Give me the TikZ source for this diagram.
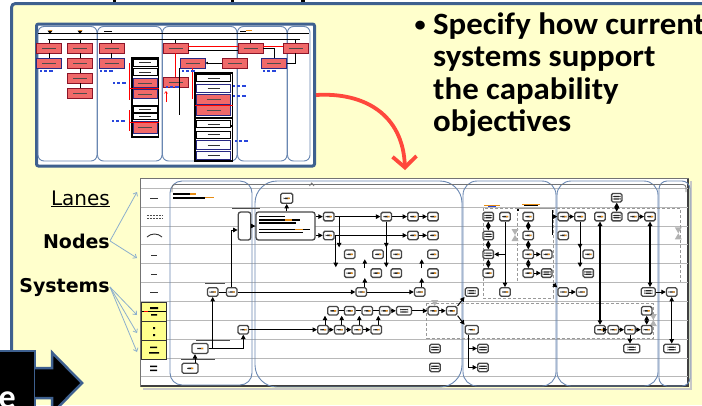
\documentclass[tikz,border=0pt]{standalone}
\usepackage{fontspec}
\setmainfont{Carlito}
\newfontfamily\lblfont{DejaVu Sans}
\newfontfamily\bulfont[FakeStretch=1.06]{Carlito Bold}
\usetikzlibrary{arrows.meta,calc}
\definecolor{panel}{RGB}{255,255,204}
\definecolor{frameblue}{RGB}{62,96,143}
\definecolor{lanec}{RGB}{105,135,178}
\definecolor{thred}{RGB}{240,105,105}
\definecolor{thdark}{RGB}{140,20,40}
\definecolor{navyb}{RGB}{40,40,130}
\definecolor{arrred}{RGB}{255,72,60}
\definecolor{hint}{RGB}{140,175,205}
\definecolor{cellyel}{RGB}{255,255,140}
\definecolor{tinyblue}{RGB}{40,70,220}
\definecolor{tinyor}{RGB}{230,140,20}
\begin{document}
\begin{tikzpicture}[x=1pt,y=-1pt,
  nd/.style={rectangle, rounded corners=1.5pt, draw=black!72, line width=1.3pt, fill=white,
    minimum width=10.5pt, minimum height=8.5pt, inner sep=0pt,
    path picture={\fill[black!85] ($(path picture bounding box.center)+(-3,-0.7)$) rectangle ($(path picture bounding box.center)+(3,0.7)$);
      \fill[tinyor] ($(path picture bounding box.center)+(1,-0.7)$) rectangle ($(path picture bounding box.center)+(3,0.7)$);}},
  ndd/.style={nd, path picture={\fill[black!85] ($(path picture bounding box.center)+(-4,-1.8)$) rectangle ($(path picture bounding box.center)+(4,-0.6)$);
      \fill[black!85] ($(path picture bounding box.center)+(-4,0.6)$) rectangle ($(path picture bounding box.center)+(4,1.8)$);}},
  ndw/.style={ndd, minimum width=15pt},
  bigbox/.style={rectangle, rounded corners=2.5pt, draw=black!72, line width=1.3pt, fill=white, inner sep=0pt},
  arr/.style={-{Triangle[length=4.5pt,width=4.5pt]}, line width=1pt},
  darr/.style={{Triangle[length=4.5pt,width=4.5pt]}-{Triangle[length=4.5pt,width=4.5pt]}, line width=1.3pt},
  ln/.style={line width=1pt},
  lane/.style={draw=lanec, line width=0.9pt},
  dbox/.style={draw=black!40, line width=0.9pt, dash pattern=on 3pt off 2pt},
  tb/.style={rectangle, fill=thred, draw=thdark, line width=0.9pt, minimum width=25pt, minimum height=10pt, inner sep=0pt,
    path picture={\draw[black!70, line width=0.6pt] ($(path picture bounding box.center)+(-7,0)$) -- ($(path picture bounding box.center)+(7,0)$);}},
  tbn/.style={tb, draw=navyb},
  tw/.style={rectangle, fill=white, draw=black, line width=0.8pt, minimum width=24pt, minimum height=7pt, inner sep=0pt,
    path picture={\draw[black!80, line width=0.6pt] ($(path picture bounding box.center)+(-6,0)$) -- ($(path picture bounding box.center)+(6,0)$);}},
  twn/.style={tw, draw=navyb, line width=1pt},
  tl/.style={black, line width=0.7pt},
  hintarr/.style={draw=hint, line width=0.8pt, -{Straight Barb[length=3pt,width=5pt]}},
  lbl/.style={anchor=base east, inner sep=0pt},
  bul/.style={font=\bulfont\fontsize{31}{31}\selectfont, anchor=base west, inner sep=0pt}
]
\useasboundingbox (0,0) rectangle (702,405);
% ---------- background panel ----------
\fill[white] (0,0) rectangle (702,405);
\fill[panel] (11.5,3.5) rectangle (702,405);
\draw[frameblue, line width=3pt, rounded corners=4pt] (11.5,351) -- (11.5,3.5) -- (706,3.5);
\fill[black] (112.5,0) rectangle (116,2);
\fill[black] (231,0) rectangle (234,1.6);
\fill[black] (301,0) rectangle (305,2.2);

% ---------- thumbnail ----------
\node[draw=frameblue, line width=3pt, rounded corners=2pt, fill=white, minimum width=278pt, minimum height=142pt, inner sep=0pt, anchor=north west] (thumb) at (35,22.5) {};
\foreach \a/\b in {38/97, 97.5/162, 162.5/237, 237.5/287, 287.5/310}
  \draw[lane, rounded corners=6pt] (\a,26.5) rectangle (\b,161);
\draw[tl] (38,33) -- (309,33);
\fill[black] (47.5,30.5) -- (52.5,30.5) -- (50,34) -- cycle;
\fill[black] (77.5,30.5) -- (82.5,30.5) -- (80,34) -- cycle;
\fill[tinyor] (48.5,30) rectangle (51.5,31);
\fill[tinyor] (78.5,30) rectangle (81.5,31);
\fill[black] (104,30.5) rectangle (112,31.5);
\fill[tinyor] (246,30) rectangle (252,31.2);
\fill[black] (240,31) rectangle (246,32);
\coordinate (bus) at (48,39.5);
\draw[black, line width=0.9pt] (bus) -- (300,39.5);
% row 1
\node[tb] (t1) at (49.2,48) {};
\node[tb] (t2) at (80,48) {};
\node[tb] (t3) at (111.5,48) {};
\node[tb] (t4) at (175.5,48) {};
\node[tb] (t5) at (250.5,48) {};
\node[tb] (t6) at (295.5,48) {};
% row 2
\node[tbn] (t7) at (49.2,63) {};
\node[tb] (t8) at (80,63) {};
\node[tbn] (t9) at (111.5,63) {};
\node[tbn] (t10) at (192.5,63) {};
\node[tb] (t11) at (235,63) {};
\node[tbn] (t12) at (274.2,63) {};
\node[tb] (t13) at (80,78) {};
\node[tb] (t14) at (175.5,82.5) {};
\node[tb] (t15) at (80,93.5) {};
% lane-2 groups
\draw[black, line width=1.1pt] (132,58) rectangle (158.5,107.5);
\node[tw] (g1) at (145.3,62.5) {};
\node[tw] (g2) at (145.3,72) {};
\node[tbn, minimum width=24pt, minimum height=9pt] (g3) at (145.3,83) {};
\node[tbn, minimum width=24pt, minimum height=9pt] (g4) at (145.3,94) {};
\draw[black, line width=1.1pt] (132,105.5) rectangle (158.5,137);
\node[tw, minimum height=6pt] (g5) at (145.3,109.5) {};
\node[tw, minimum height=6pt] (g6) at (145.3,116) {};
\node[tbn, minimum width=24pt, minimum height=12pt] (g7) at (145.3,127.5) {};
% lane-3 groups
\draw[black, line width=1.1pt] (195,73) rectangle (232.5,126);
\node[tw, minimum width=34pt] (h1) at (213.7,78) {};
\node[twn, minimum width=34pt, minimum height=8pt] (h2) at (213.7,88) {};
\node[tbn, minimum width=34pt, minimum height=10pt] (h3) at (213.7,99) {};
\node[tbn, minimum width=34pt, minimum height=10pt] (h4) at (213.7,110) {};
\draw[black, line width=1.1pt] (195,118) rectangle (232.5,161);
\node[tw, minimum width=34pt] (h5) at (213.7,124) {};
\node[tw, minimum width=34pt] (h6) at (213.7,134.5) {};
\node[twn, minimum width=34pt, minimum height=9pt] (h7) at (213.7,145) {};
\node[twn, minimum width=34pt, minimum height=8pt] (h8) at (213.7,155.5) {};
% thumbnail connectors
\foreach \t in {t1,t2,t3,t4,t5,t6} \draw[tl] (\t.north |- bus) -- (\t.north);
\draw[tl] (t1) -- (t7);
\draw[tl] (t2) -- (t8);
\draw[tl] (t8) -- (t13);
\draw[tl] (t13) -- (t15);
\draw[tl] (t3) -- (t9);
\draw[tl] ([yshift=-2pt]t4.east) -- ([yshift=-2pt]t5.west);
\draw[red, line width=0.8pt] ([yshift=1.3pt]t4.east) -- ([yshift=1.3pt]t5.west);
\draw[red, line width=0.8pt] ([yshift=1.3pt]t5.east) -- ([yshift=1.3pt]t6.west);
\draw[red, line width=0.8pt] (t4) -- (t14);
\draw[tl, -{Triangle[length=2.5pt,width=2.5pt]}] (t11) -- (t10);
\draw[tl] (t5.east) -| (t12.north);
\draw[tl] (t6.south) |- (t12.east);
\draw[tl] (t10.south west) -- (t10.south west |- h4.south);
\draw[red, line width=0.8pt] (129,63) -- (129,100) (129,88) -- (158.5,88);
\draw[red, line width=0.8pt] (129,110) -- (129,131) (129,122) -- (158.5,122);
\draw[red, line width=0.8pt] (t10.south) -- (t10.south |- h3) (195,105) -- (232.5,105);
\draw[red, line width=0.6pt, -{Straight Barb[length=2pt,width=3pt]}] (166,102) -- (166,91);
\foreach \x/\y in {40/71, 100/71, 113/83, 112/121, 182/71, 166/87, 233/86, 233/96, 235/141, 263/71}{
  \fill[tinyblue] (\x,\y-0.7) rectangle (\x+2,\y+0.7);
  \fill[tinyblue] (\x+4,\y-0.7) rectangle (\x+7,\y+0.7);
  \fill[tinyblue] (\x+9,\y-0.7) rectangle (\x+13,\y+0.7);
}

% ---------- red curved arrow ----------
\coordinate (arrtip) at (405,170);
\draw[arrred, line width=3.8pt, -{Straight Barb[length=11pt,width=24pt]}] (thumb.east) .. controls (365,92) and (403,115) .. (arrtip);

% ---------- bullet text ----------
\node[font=\bulfont\fontsize{21}{21}\selectfont, anchor=base west, inner sep=0pt] (bullet) at (414.5,31) {•};
\node[bul] (line1) at (433,34) {Specify how current};
\node[bul] (line2) at (433,66.6) {systems support};
\node[bul] (line3) at (433,99.2) {the capability};
\node[bul] (line4) at (433,131.8) {objectives};

% ---------- labels ----------
\node[lbl, font=\lblfont\fontsize{20}{20}\selectfont] (lanes) at (110,205) {\underline{Lanes}};
\node[lbl, font=\lblfont\bfseries\fontsize{19}{19}\selectfont] (nodes) at (110,248) {Nodes};
\node[lbl, font=\lblfont\bfseries\fontsize{19}{19}\selectfont] (systems) at (110,292) {Systems};
\coordinate (p1) at (137,192);
\coordinate (p2) at (137,258);
\coordinate (p3) at (137,315);
\coordinate (p4) at (137,333);
\coordinate (p5) at (137,352);
\draw[hintarr] (nodes.east) -- (p1);
\draw[hintarr] (nodes.east) -- (p2);
\draw[hintarr] (systems.east) -- (p3);
\draw[hintarr] (systems.east) -- (p4);
\draw[hintarr] (systems.east) -- (p5);

% ---------- big diagram frame ----------
\draw[black!22, line width=2pt] (690.5,181) -- (690.5,388.5) -- (143,388.5);
\node[draw=black!55, line width=0.8pt, fill=white, minimum width=548pt, minimum height=208pt, inner sep=0pt, anchor=north west] (big) at (140,178) {};
\draw[black!75, line width=1.2pt] (688,178.5) -- (688,386) -- (140.5,386);
\foreach \k in {0,...,10}{
  \pgfmathsetmacro\yy{188.3+18.84*\k}
  \draw[black!28, line width=0.7pt] (140.5,\yy) -- (687.5,\yy);
}
% left lane labels
\draw[black!80, line width=1pt] (150,198.3) -- (158,198.3);
\draw[black!70, line width=0.9pt, dash pattern=on 2pt off 1pt] (147,215) -- (163,215) (147,218.5) -- (163,218.5);
\draw[black!80, line width=0.9pt] (147,237) .. controls (151,233) and (158,233) .. (162,237);
\draw[black!80, line width=1pt] (151,255) -- (157,255) (151,274) -- (157,274) (150,292.7) -- (158,292.7);
\draw[black!80, fill=cellyel, line width=0.9pt] (141.5,302) rectangle (166.5,321) (141.5,321) rectangle (166.5,340) (141.5,340) rectangle (166.5,359);
\draw[black, line width=0.8pt] (142,311.5) -- (166,311.5);
\fill[red] (144,311) rectangle (148,312);
\fill[black] (150,307) rectangle (158,309) (151,314) rectangle (157,315.5);
\fill[black] (153,327) rectangle (155,329) (153,334) rectangle (155,336);
\fill[black] (150,346.5) rectangle (157,348) (149,352) rectangle (159,353.5);
\fill[black] (150,365.5) rectangle (157,367) (150,369.5) rectangle (157,371);

% lane outlines
\draw[lane, rounded corners=12pt] (170,181) rectangle (252,385);
\draw[lane, rounded corners=22pt] (255,181) rectangle (462,387);
\draw[lane, rounded corners=14pt] (463,181) rectangle (556,386);
\draw[lane, rounded corners=14pt] (557,181) rectangle (658,386);
\draw[lane, rounded corners=8pt] (659,181) rectangle (690,386);
\draw[black!55, line width=0.8pt, rounded corners=3pt] (172,192) -- (172,184.5) -- (686,184.5) -- (686,192);
\draw[black!55, line width=0.8pt] (309.5,186) -- (311.7,183) -- (314,186);

% dashed groups
\draw[dbox] (426.7,303.3) rectangle (653,338.3);
\draw[dbox] (483,208.3) rectangle (553,298.3);
\draw[dbox] (517,208.3) -- (680,208.3) -- (680,282);
\draw[dbox] (517,208.3) -- (517,282);
% hourglass marks
\foreach \x/\y in {515/235, 678.3/233.3, 653.3/320, 434.7/306}{
  \fill[black!30] (\x-3.5,\y-6) -- (\x+3.5,\y-6) -- (\x,\y) -- cycle;
  \fill[black!30] (\x-3.5,\y+6) -- (\x+3.5,\y+6) -- (\x,\y) -- cycle;
}
% tiny texts
\fill[black] (173,192.5) rectangle (190,194.5);
\fill[tinyor] (190,193) rectangle (196,194.5);
\fill[black] (173,196.5) rectangle (205,198.5);
\fill[tinyor] (205,197) rectangle (214,198);
\fill[black!70] (205,282.5) rectangle (225,283.5);
\fill[black!70] (196,339.5) rectangle (230,340.5);
\fill[black!70] (181,358.5) rectangle (215,359.5);
\fill[black!70] (232,207.5) rectangle (260,208.5);
\fill[tinyor] (484,204.5) rectangle (500,205.5);
\fill[tinyblue] (488,205.5) rectangle (496,206.2);
\fill[tinyor] (522,203.5) rectangle (540,205);
\fill[black] (524,205) rectangle (538,206.3);
\fill[black] (516.5,208.5) rectangle (519,211);

% ---------- big diagram nodes ----------
% lane 1
\node[bigbox, minimum width=12.5pt, minimum height=28pt] (T) at (244.5,226) {};
\node[bigbox, minimum width=59pt, minimum height=28pt] (B) at (285.5,226) {};
\fill[black] (258.5,215.8) rectangle (285,217.2);
\fill[black] (258.5,219.3) rectangle (300,220.7);
\fill[tinyor] (285,219.3) rectangle (292,220.7);
\fill[black] (258.5,222.3) rectangle (296,223.5);
\fill[black] (258.5,228.5) rectangle (310,229.9);
\fill[tinyor] (295,228.5) rectangle (303,229.9);
\fill[black] (258.5,232) rectangle (303,233.3);
\node[nd, minimum width=12pt, minimum height=10pt] (a0) at (286.7,198.3) {};
\node[nd] (a1) at (212.7,292) {};
\node[nd] (a2) at (231.7,292) {};
\node[nd, minimum width=16pt, minimum height=10pt] (a3) at (200,348.5) {};
\node[nd, minimum width=16pt, minimum height=10pt] (a4) at (190,368.3) {};
\node[nd] (a5) at (243.3,329.7) {};
% lane 2
\node[nd] (b1) at (328.7,216.6) {};
\node[nd] (b2) at (328.7,235.4) {};
\node[nd] (b3) at (386.3,216.6) {};
\node[nd] (b4) at (413,216.6) {};
\node[nd] (b5) at (433,216.6) {};
\node[nd] (b6) at (413,235.4) {};
\node[nd] (b7) at (433,235.4) {};
\node[nd] (b8) at (349.7,254.3) {};
\node[nd] (b9) at (349.7,273.1) {};
\node[nd] (b10) at (396.3,254.3) {};
\node[nd] (b11) at (396.3,273.1) {};
\node[nd] (b12) at (378,254.3) {};
\node[nd] (b13) at (376.3,273.1) {};
\node[nd] (b14) at (433,254.3) {};
\node[nd] (b15) at (433,273.1) {};
\node[nd] (n5a) at (361.3,292) {};
\node[nd] (n5b) at (419.7,292) {};
\node[nd] (c6a) at (333,310.8) {};
\node[nd] (c6b) at (349.7,310.8) {};
\node[nd] (c6c) at (367.3,310.8) {};
\node[nd] (c6d) at (384.7,310.8) {};
\node[ndw] (c6e) at (404,310.8) {};
\node[nd] (c6f) at (433.3,310.8) {};
\node[nd] (c6g) at (451.7,310.8) {};
\node[nd] (c7a) at (323,329.7) {};
\node[nd] (c7b) at (339.7,329.7) {};
\node[nd] (c7c) at (357.3,329.7) {};
\node[nd] (c7d) at (376.3,329.7) {};
\node[ndd] (b16) at (435,348.5) {};
\node[ndd] (b17) at (435,367.4) {};
% lane 3
\node[ndd] (d1) at (488.3,216.6) {};
\node[nd] (d2) at (505,216.6) {};
\node[nd] (d3) at (528.3,216.6) {};
\node[ndd] (d4) at (488.3,235.4) {};
\node[nd] (d5) at (528.3,235.4) {};
\node[ndd] (d6) at (488.3,254.3) {};
\node[nd] (d7) at (528.3,254.3) {};
\node[nd] (d8) at (546.7,254.3) {};
\node[nd] (d9) at (488.3,273.1) {};
\node[nd] (d10) at (528.3,273.1) {};
\node[ndd] (d11) at (546.7,273.1) {};
\node[ndw, minimum width=13pt] (d12) at (471.7,292) {};
\node[nd] (d13) at (505,292) {};
\node[nd, minimum width=13pt] (d14) at (471.7,329.7) {};
\node[ndd] (d15) at (483,348.5) {};
\node[ndd] (d16) at (483,367.4) {};
% lane 4 and 5
\node[ndd] (e0) at (616.7,197.7) {};
\node[nd] (e1) at (563.3,216.6) {};
\node[nd] (e2) at (580,216.6) {};
\node[nd] (e3) at (600,216.6) {};
\node[ndd] (e4) at (616.7,216.6) {};
\node[nd] (e5) at (633.3,216.6) {};
\node[nd] (e6) at (650,216.6) {};
\node[nd] (e7) at (563.3,235.4) {};
\node[nd] (e8) at (588.3,254.3) {};
\node[ndd] (e9) at (588.3,273.1) {};
\node[nd] (e10) at (563.3,292) {};
\node[nd] (e11) at (581.7,292) {};
\node[ndw, minimum width=14pt] (e12) at (648.3,292) {};
\node[nd] (e13) at (671.7,292) {};
\node[nd] (e14) at (646.7,310.8) {};
\node[nd] (e15) at (600,329.7) {};
\node[nd] (e16) at (613.3,329.7) {};
\node[nd] (e17) at (630,329.7) {};
\node[nd] (e18) at (646.7,329.7) {};
\node[ndw, minimum width=16pt] (e19) at (631.7,348.5) {};
\node[ndw, minimum width=16pt] (e20) at (671.7,348.5) {};

% ---------- big diagram connectors ----------
% lane 1
\draw[ln] (a1) -- (a2);
\draw[arr] (a3.east) -| (a5.south);
\draw[arr] (a1 |- a3.east) -- (a1.south);
\draw[arr] ([xshift=5pt]a4.north) -- ([xshift=5pt]a4.north |- a3.south);
\draw[arr] (a2.north) |- ([yshift=-4pt]T.west);
\draw[arr] (T) -- (B);
\draw[arr] (B.north -| a0) -- (a0);
\draw[arr] (a2) -- (n5a);
\draw[arr] (n5a) -- (n5b);
\draw[arr] (a5) -- (c7a);
% lane 2
\draw[arr] (B.east |- b1) -- (b1);
\draw[arr] (B.east |- b2) -- (b2);
\draw[arr] (b1) -- (b3);
\draw[arr] (b3) -- (b4);
\draw[arr] (b4) -- (b5);
\draw[arr] (b2) -- (b6);
\draw[arr] (b6) -- (b7);
\draw[arr] (b1.east) -| ([xshift=-4.7pt,yshift=2pt]b8.north west);
\draw[arr] (b2.east) -| ([xshift=-8pt,yshift=1pt]b9.north west);
\draw[arr] (b3.south) -- ([yshift=2pt]b3.south |- b10.north);
\draw[arr] (b3.south) -- ([yshift=1pt]b3.south |- b11.north);
\draw[arr] ([xshift=3.5pt]n5a.north) -- ([xshift=3.5pt]n5a.north |- b13.south);
\draw[arr] ([xshift=3.5pt]n5a.north |- b13.north) -- ([xshift=3.5pt]n5a.north |- b12.south);
\draw[arr] ([xshift=2pt]n5b.north) -- ([xshift=2pt]n5b.north |- b15.south);
\draw[arr] ([xshift=2pt]n5b.north |- b15.north) -- ([xshift=2pt]n5b.north |- b14.south);
\draw[ln] (c6a) -- (c6b);
\draw[ln] (c6b) -- (c6c);
\draw[ln] (c6c) -- (c6d);
\draw[arr] (c6d) -- (c6e);
\draw[arr] (c6e) -- (c6f);
\draw[arr] (c6f) -- (c6g);
\draw[arr] (c7a) -- (c7b);
\draw[arr] (c7b) -- (c7c);
\draw[arr] (c7c) -- (c7d);
\draw[arr] ([xshift=2pt]c7a.north) -- ([xshift=2pt]c7a.north |- c6a.south);
\draw[arr] ([xshift=2pt]c7b.north) -- ([xshift=2pt]c7b.north |- c6b.south);
\draw[arr] ([xshift=2pt]c7c.north) -- ([xshift=2pt]c7c.north |- c6c.south);
\draw[arr] ([xshift=2pt]c7d.north) -- ([xshift=2pt]c7d.north |- c6d.south);
% lane 3
\draw[darr] (d1) -- (d4);
\draw[darr] (d4) -- (d6);
\draw[darr] (d6) -- (d9);
\draw[arr] (d2) -- (d13);
\draw[arr] (d2.south |- d6) -- (d6);
\draw[darr] (d3) -- (d5);
\draw[darr] (d5) -- (d7);
\draw[darr] (d7) -- (d10);
\draw[arr] (d7) -- (d8);
\draw[arr] (d10) -- (d11);
\draw[arr] (c6g.north east) -- (d12.south west);
\draw[arr] (c6g.south east) -- (d14.north west);
\draw[arr] ([xshift=-3pt]d14.south) |- (d15);
\draw[arr] ([xshift=-3pt]d14.south) |- (d16);
% lane 4 / 5
\coordinate (l34a) at (552,210);
\coordinate (l34b) at (553,284);
\draw[arr] (l34a) |- (e1);
\draw[ln] (l34a) -- (l34a |- e7);
\draw[arr] (l34b) -- (e10);
\draw[arr] (e1) -- (e2);
\draw[arr] (e2.south) -- ([yshift=1pt]e2.south |- e8.north);
\draw[arr] (e2.south) -- ([yshift=1pt]e2.south |- e9.north);
\draw[darr] (e3) -- (e15);
\draw[darr] (e0) -- (e4);
\draw[arr] (e5) -- (e6);
\draw[darr] (e6) -- (e6 |- e12.north);
\draw[arr] (e10) -- (e11);
\draw[arr] (e12) -- (e13);
\draw[darr] (e13) -- (e20);
\draw[arr] (e15) -- (e16);
\draw[arr] (e16) -- (e17);
\draw[arr] (e17) -- (e18);
\draw[darr] (e14) -- (e18);
\draw[arr] (e17) -- (e17 |- e19.north);

% ---------- bottom-left block ----------
\draw[fill=black, draw=frameblue, line width=2.8pt] (-5,351) -- (35,351) -- (35,410) -- (-5,410) -- cycle;
\draw[fill=black, draw=frameblue, line width=2.5pt] (35,368) -- (52,368) -- (52,352.5) -- (82,383) -- (52,413.5) -- (52,398) -- (35,398);
\node[font=\bfseries\fontsize{34}{34}\selectfont, text=white, anchor=base east, inner sep=0pt] (etext) at (16,408) {e};
\end{tikzpicture}
\end{document}
